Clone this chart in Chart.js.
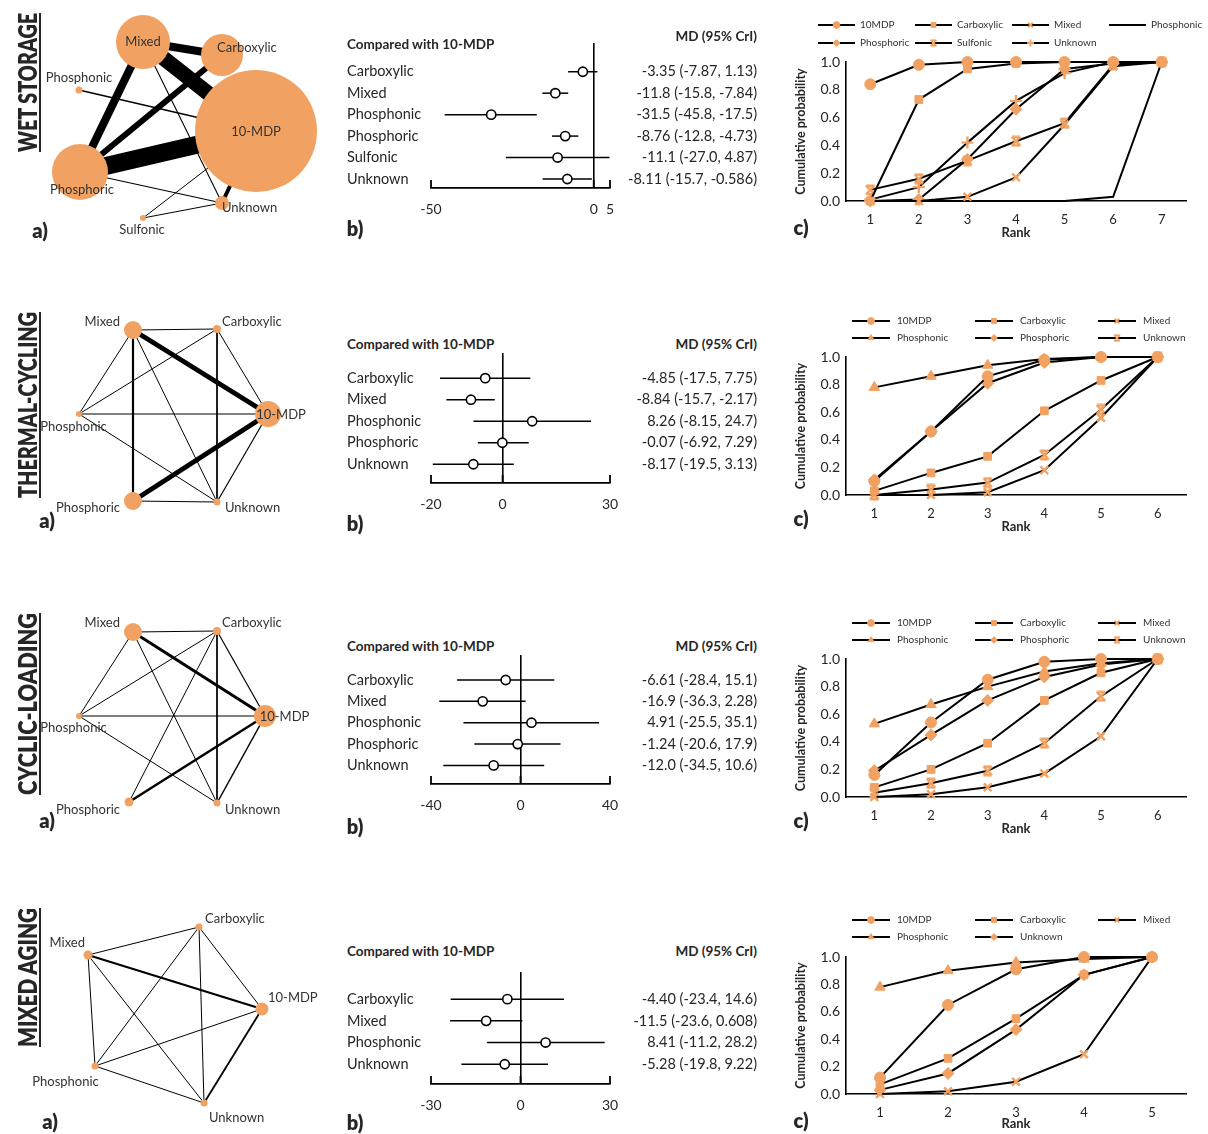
<!DOCTYPE html>
<html>
<head>
<meta charset="utf-8">
<script src="https://cdn.jsdelivr.net/npm/chart.js@4.4.1/dist/chart.umd.min.js"></script>
<style>
  html, body { margin: 0; padding: 0; background: #fff; }
  #page { position: relative; width: 1208px; height: 1134px; overflow: hidden;
          font-family: Lato, 'Open Sans', sans-serif; color: #262626; }
  .box { position: absolute; }
  .box canvas { display: block; }
  .txt { position: absolute; white-space: nowrap; line-height: 1; }
  .rowTitle { font-weight: 800; font-size: 27px; text-decoration: underline;
              text-decoration-thickness: 2px; text-underline-offset: 2px; transform-origin: 0 0; }
  .tag { font-weight: 800; font-size: 20px; transform: translate(-50%, -50%); }
  .hdr { font-weight: 700; font-size: 13.5px; }
</style>
</head>
<body>
<div id="page"></div>
<script>
// ================= DATA =================

// ---- Wet storage ----
const wsNodeNames = ['Mixed', 'Carboxylic', 'Phosphonic', '10-MDP', 'Phosphoric', 'Unknown', 'Sulfonic'];
const wsNodeX = [143, 222, 79, 256, 80, 222, 143];
const wsNodeY = [42, 55, 90, 131, 172, 203, 218];
const wsNodeSize = [27, 21, 3.5, 61, 28, 7, 3];
const wsEdgeFrom = [0, 0, 0, 1, 4, 2, 0, 4, 3, 6, 6];
const wsEdgeTo   = [1, 3, 4, 4, 3, 3, 5, 5, 5, 5, 3];
const wsEdgeWeight = [8, 15, 8, 6, 18, 1.3, 1.1, 1.1, 4, 1, 1];

const wsCats = ['Carboxylic', 'Mixed', 'Phosphonic', 'Phosphoric', 'Sulfonic', 'Unknown'];
const wsMD   = [-3.35, -11.8, -31.5, -8.76, -11.1, -8.11];
const wsLow  = [-7.87, -15.8, -45.8, -12.8, -27.0, -15.7];
const wsHigh = [1.13, -7.84, -17.5, -4.73, 4.87, -0.586];
const wsMDTicks = [-50, 0, 5];

const wsRanks = ['1', '2', '3', '4', '5', '6', '7'];
const wsRankNames = ['10MDP', 'Carboxylic', 'Mixed', 'Phosphonic', 'Phosphoric', 'Sulfonic', 'Unknown'];
const wsCumProb = [
  [0.84, 0.98, 1.0, 1.0, 1.0, 1.0, 1.0],
  [0.0, 0.73, 0.95, 0.99, 1.0, 1.0, 1.0],
  [0.0, 0.0, 0.03, 0.17, 0.55, 0.97, 1.0],
  [0.0, 0.0, 0.0, 0.0, 0.0, 0.03, 1.0],
  [0.0, 0.01, 0.30, 0.66, 0.95, 0.99, 1.0],
  [0.08, 0.16, 0.29, 0.43, 0.56, 0.98, 1.0],
  [0.01, 0.10, 0.42, 0.72, 0.92, 1.0, 1.0]
];

// ---- Thermal-cycling ----
const tcNodeNames = ['Mixed', 'Carboxylic', 'Phosphonic', '10-MDP', 'Phosphoric', 'Unknown'];
const tcNodeX = [133, 217, 79, 268, 133, 217];
const tcNodeY = [30, 29, 114, 114, 201, 202];
const tcNodeSize = [9, 4, 3, 13, 9, 3.5];
const tcEdgeFrom = [0, 4, 0, 0, 0, 0, 1, 1, 1, 2, 2, 4, 3];
const tcEdgeTo   = [3, 3, 4, 1, 2, 5, 2, 5, 3, 3, 5, 5, 5];
const tcEdgeWeight = [5, 5, 2.2, 1, 1, 1, 1, 1, 1, 1, 1, 1, 1.2];

const tcCats = ['Carboxylic', 'Mixed', 'Phosphonic', 'Phosphoric', 'Unknown'];
const tcMD   = [-4.85, -8.84, 8.26, -0.07, -8.17];
const tcLow  = [-17.5, -15.7, -8.15, -6.92, -19.5];
const tcHigh = [7.75, -2.17, 24.7, 7.29, 3.13];
const tcMDTicks = [-20, 0, 30];

const tcRanks = ['1', '2', '3', '4', '5', '6'];
const tcRankNames = ['10MDP', 'Carboxylic', 'Mixed', 'Phosphonic', 'Phosphoric', 'Unknown'];
const tcCumProb = [
  [0.10, 0.46, 0.86, 0.98, 1.0, 1.0],
  [0.03, 0.16, 0.28, 0.61, 0.83, 1.0],
  [0.0, 0.0, 0.02, 0.18, 0.56, 1.0],
  [0.78, 0.86, 0.94, 0.985, 1.0, 1.0],
  [0.11, 0.46, 0.81, 0.96, 1.0, 1.0],
  [0.0, 0.04, 0.09, 0.29, 0.62, 1.0]
];

// ---- Cyclic-loading ----
const clNodeNames = ['Mixed', 'Carboxylic', 'Phosphonic', '10-MDP', 'Phosphoric', 'Unknown'];
const clNodeX = [133, 217, 79, 265, 129, 217];
const clNodeY = [32, 31, 116, 116, 202, 203];
const clNodeSize = [9, 4, 3, 11, 4.5, 3.5];
const clEdgeFrom = [0, 4, 0, 0, 0, 1, 1, 1, 1, 2, 2, 3];
const clEdgeTo   = [3, 3, 1, 2, 5, 2, 4, 5, 3, 3, 5, 5];
const clEdgeWeight = [3, 2.5, 1, 1, 1, 1, 1, 1, 1.2, 1, 1, 1.5];

const clCats = ['Carboxylic', 'Mixed', 'Phosphonic', 'Phosphoric', 'Unknown'];
const clMD   = [-6.61, -16.9, 4.91, -1.24, -12.0];
const clLow  = [-28.4, -36.3, -25.5, -20.6, -34.5];
const clHigh = [15.1, 2.28, 35.1, 17.9, 10.6];
const clMDTicks = [-40, 0, 40];

const clRanks = ['1', '2', '3', '4', '5', '6'];
const clRankNames = ['10MDP', 'Carboxylic', 'Mixed', 'Phosphonic', 'Phosphoric', 'Unknown'];
const clCumProb = [
  [0.16, 0.54, 0.85, 0.98, 1.0, 1.0],
  [0.07, 0.20, 0.39, 0.70, 0.90, 1.0],
  [0.0, 0.02, 0.07, 0.17, 0.44, 1.0],
  [0.53, 0.67, 0.80, 0.91, 0.97, 1.0],
  [0.19, 0.45, 0.70, 0.87, 0.96, 1.0],
  [0.03, 0.10, 0.19, 0.39, 0.73, 1.0]
];

// ---- Mixed aging ----
const maNodeNames = ['Carboxylic', 'Mixed', '10-MDP', 'Phosphonic', 'Unknown'];
const maNodeX = [199, 88, 262, 95, 204];
const maNodeY = [37, 65, 119, 176, 213];
const maNodeSize = [3.5, 4.5, 6.5, 3.5, 3.5];
const maEdgeFrom = [1, 1, 1, 1, 0, 0, 0, 2, 2, 3];
const maEdgeTo   = [0, 2, 3, 4, 2, 3, 4, 3, 4, 4];
const maEdgeWeight = [1, 2.2, 1, 1, 1, 1, 1, 1, 1.8, 1];

const maCats = ['Carboxylic', 'Mixed', 'Phosphonic', 'Unknown'];
const maMD   = [-4.40, -11.5, 8.41, -5.28];
const maLow  = [-23.4, -23.6, -11.2, -19.8];
const maHigh = [14.6, 0.608, 28.2, 9.22];
const maMDTicks = [-30, 0, 30];

const maRanks = ['1', '2', '3', '4', '5'];
const maRankNames = ['10MDP', 'Carboxylic', 'Mixed', 'Phosphonic', 'Unknown'];
const maCumProb = [
  [0.12, 0.65, 0.91, 1.0, 1.0],
  [0.07, 0.26, 0.55, 0.87, 1.0],
  [0.0, 0.02, 0.09, 0.29, 1.0],
  [0.78, 0.90, 0.96, 0.985, 1.0],
  [0.03, 0.15, 0.47, 0.87, 1.0]
];

// ================= STYLE / LAYOUT =================
const ORANGE = '#F1A262';
const INK = '#262626';
Chart.defaults.font.family = "Lato, 'Open Sans', sans-serif";
Chart.defaults.color = INK;

const page = document.getElementById('page');

function addCanvas(left, top, w, h) {
  const d = document.createElement('div');
  d.className = 'box';
  d.style.cssText = `left:${left}px;top:${top}px;width:${w}px;height:${h}px;`;
  const c = document.createElement('canvas');
  c.width = w; c.height = h;
  c.style.width = w + 'px'; c.style.height = h + 'px';
  d.appendChild(c);
  page.appendChild(d);
  return c;
}

function addText(str, cls, css) {
  const t = document.createElement('div');
  t.className = 'txt ' + cls;
  t.textContent = str;
  t.style.cssText += css;
  page.appendChild(t);
  return t;
}

// Row title written bottom-to-top, stretched to the given length
function rowTitle(str, left, bottom, len) {
  const t = addText(str, 'rowTitle', `left:${left}px;top:${bottom}px;z-index:5;`);
  const w = t.getBoundingClientRect().width;
  t.style.transform = `rotate(-90deg) scaleX(${len / w})`;
}

function tag(str, cx, cy) {
  addText(str, 'tag', `left:${cx}px;top:${cy}px;z-index:5;`);
}

// Hourglass-style marker (used for the "star" series)
function hourglass(size, color, lw) {
  const c = document.createElement('canvas');
  c.width = c.height = size;
  const g = c.getContext('2d');
  g.strokeStyle = color; g.lineWidth = lw;
  const a = lw / 2 + 0.5, b = size - lw / 2 - 0.5;
  g.beginPath();
  g.moveTo(a, a); g.lineTo(b, b);
  g.moveTo(b, a); g.lineTo(a, b);
  g.moveTo(a, a); g.lineTo(b, a);
  g.moveTo(a, b); g.lineTo(b, b);
  g.stroke();
  return c;
}
const HOUR = hourglass(12, ORANGE, 2.4);

const MARK = {
  circle:  { pointStyle: 'circle', pointRadius: 5.5, pointBorderWidth: 1 },
  square:  { pointStyle: 'rect', pointRadius: 5.5, pointBorderWidth: 1 },
  x:       { pointStyle: 'crossRot', pointRadius: 5.5, pointBorderWidth: 2.4 },
  plus:    { pointStyle: 'cross', pointRadius: 6, pointBorderWidth: 2.4 },
  tri:     { pointStyle: 'triangle', pointRadius: 6, pointBorderWidth: 1 },
  diamond: { pointStyle: 'rectRot', pointRadius: 6, pointBorderWidth: 1 },
  hour:    { pointStyle: HOUR, pointRadius: 6, pointBorderWidth: 1 },
  none:    { pointStyle: 'circle', pointRadius: 0, pointBorderWidth: 0 }
};

// ================= PLUGINS =================
const nodeLabels = {
  id: 'nodeLabels',
  afterDatasetsDraw(chart, args, opts) {
    const meta = chart.getDatasetMeta(0);
    const ctx = chart.ctx;
    ctx.save();
    ctx.font = "13px Lato, 'Open Sans', sans-serif";
    ctx.fillStyle = '#333';
    ctx.textBaseline = 'middle';
    opts.names.forEach((name, i) => {
      const el = meta.data[i];
      const p = opts.place[i];
      ctx.textAlign = p[2];
      ctx.fillText(name, el.x + p[0], el.y + p[1]);
    });
    ctx.restore();
  }
};

const upTicks = {
  id: 'upTicks',
  afterDraw(chart, args, opts) {
    const sx = chart.scales.x, ctx = chart.ctx, y = chart.chartArea.bottom;
    ctx.save();
    ctx.strokeStyle = '#000';
    ctx.lineWidth = 1.8;
    sx.ticks.forEach(t => {
      const px = sx.getPixelForValue(t.value);
      ctx.beginPath(); ctx.moveTo(px, y); ctx.lineTo(px, y - opts.len); ctx.stroke();
    });
    ctx.restore();
  }
};

const gridLegend = {
  id: 'gridLegend',
  afterDraw(chart, args, o) {
    const ctx = chart.ctx;
    ctx.save();
    ctx.font = "10px Lato, 'Open Sans', sans-serif";
    ctx.textBaseline = 'middle';
    ctx.textAlign = 'left';
    chart.data.datasets.forEach((ds, i) => {
      const col = i % o.cols, row = Math.floor(i / o.cols);
      const x = o.x + col * o.colW, y = o.y + row * o.rowH;
      ctx.strokeStyle = '#000'; ctx.lineWidth = 2;
      ctx.beginPath(); ctx.moveTo(x, y); ctx.lineTo(x + o.lineLen, y); ctx.stroke();
      if (ds.pointRadius > 0) {
        const mx = x + o.lineLen / 2;
        if (ds.pointStyle instanceof HTMLCanvasElement) {
          ctx.drawImage(ds.pointStyle, mx - 4, y - 4, 8, 8);
        } else {
          ctx.fillStyle = ORANGE; ctx.strokeStyle = ORANGE;
          ctx.lineWidth = Math.min(ds.pointBorderWidth, 1.8);
          Chart.helpers.drawPoint(ctx, { pointStyle: ds.pointStyle, radius: 3.4, rotation: 0, borderWidth: ctx.lineWidth }, mx, y);
        }
      }
      ctx.fillStyle = '#333';
      ctx.fillText(ds.label, x + o.lineLen + o.gap, y);
    });
    ctx.restore();
  }
};

// ================= CHART BUILDERS =================
function networkChart(top, h, names, xs, ys, sizes, eFrom, eTo, eW, place) {
  const canvas = addCanvas(0, top, 330, h);
  const nodes = names.map((n, i) => ({ x: xs[i], y: ys[i], r: sizes[i] }));
  const edges = eFrom.map((a, k) => ({
    type: 'line',
    data: [{ x: xs[a], y: ys[a] }, { x: xs[eTo[k]], y: ys[eTo[k]] }],
    borderColor: '#000', borderWidth: eW[k], pointRadius: 0, order: 1, clip: false
  }));
  new Chart(canvas, {
    type: 'bubble',
    data: { datasets: [{ data: nodes, backgroundColor: ORANGE, borderWidth: 0, order: 0, clip: false }, ...edges] },
    options: {
      responsive: false, animation: false, devicePixelRatio: 1, events: [],
      layout: { padding: 0, autoPadding: false },
      plugins: { legend: { display: false }, tooltip: { enabled: false }, nodeLabels: { names, place } },
      scales: {
        x: { type: 'linear', min: 0, max: 330, display: false },
        y: { type: 'linear', min: 0, max: h, reverse: true, display: false }
      }
    },
    plugins: [nodeLabels]
  });
}

const fmt = v => Math.abs(v) < 0.1 ? v.toFixed(2) : v.toPrecision(3);

function forestChart(top, axisY, cats, md, lo, hi, xTicks, yMin, yMax) {
  const xAxisH = 32;
  const canvas = addCanvas(347, top, 410, axisY - top + xAxisH);
  const rowPos = cats.map((c, i) => i + 1);
  const mdText = md.map((m, i) => `${fmt(m)} (${fmt(lo[i])}, ${fmt(hi[i])})`);
  const ciSets = cats.map((c, i) => ({
    type: 'line',
    data: [{ x: lo[i], y: rowPos[i] }, { x: hi[i], y: rowPos[i] }],
    borderColor: '#000', borderWidth: 1.5, pointRadius: 0, order: 1, clip: false
  }));
  const pointSet = {
    type: 'scatter',
    data: md.map((m, i) => ({ x: m, y: rowPos[i] })),
    pointStyle: 'circle', pointRadius: 4.6,
    pointBackgroundColor: '#fff', pointBorderColor: '#000', pointBorderWidth: 1.6,
    order: 0, clip: false
  };
  const sideAxis = (pos, labels, width) => ({
    type: 'linear', position: pos, min: yMin, max: yMax, reverse: true,
    afterBuildTicks: s => { s.ticks = rowPos.map(v => ({ value: v })); },
    afterFit: s => { s.width = width; s.paddingTop = 0; s.paddingBottom = 0; },
    ticks: { callback: v => labels[v - 1], crossAlign: 'far', autoSkip: false, padding: 0,
             font: { size: 14.5 }, color: INK },
    grid: { display: false }, border: { display: false }
  });
  new Chart(canvas, {
    type: 'scatter',
    data: { datasets: [pointSet, ...ciSets] },
    options: {
      responsive: false, animation: false, devicePixelRatio: 1, events: [],
      layout: { padding: 0, autoPadding: false },
      plugins: { legend: { display: false }, tooltip: { enabled: false }, upTicks: { len: 8 } },
      scales: {
        x: {
          type: 'linear', min: xTicks[0], max: xTicks[xTicks.length - 1],
          afterBuildTicks: s => { s.ticks = xTicks.map(v => ({ value: v })); },
          afterFit: s => { s.height = xAxisH; },
          ticks: { autoSkip: false, maxRotation: 0, padding: 13, font: { size: 14 }, color: INK },
          grid: { drawTicks: false, lineWidth: 1.6,
                  color: c => (c.tick && c.tick.value === 0) ? '#000' : 'rgba(0,0,0,0)' },
          border: { display: true, color: '#000', width: 1.8 }
        },
        y: sideAxis('left', cats, 84),
        y2: sideAxis('right', mdText, 147)
      }
    },
    plugins: [upTicks]
  });
}

function rankChart(top, h, padTop, xAxisH, ranks, names, probs, marks, legend) {
  const canvas = addCanvas(780, top, 428, h);
  const datasets = names.map((n, i) => Object.assign({
    label: n, data: probs[i], borderColor: '#000', borderWidth: 2, tension: 0,
    pointBackgroundColor: ORANGE, pointBorderColor: ORANGE, clip: false
  }, MARK[marks[i]]));
  new Chart(canvas, {
    type: 'line',
    data: { labels: ranks, datasets },
    options: {
      responsive: false, animation: false, devicePixelRatio: 1, events: [],
      layout: { padding: { top: padTop, right: 22, left: 0, bottom: 0 }, autoPadding: false },
      plugins: { legend: { display: false }, tooltip: { enabled: false }, gridLegend: legend },
      scales: {
        x: {
          type: 'category', offset: true,
          afterFit: s => { s.height = xAxisH; },
          ticks: { padding: 11, font: { size: 13 }, color: INK, maxRotation: 0 },
          grid: { display: false, drawTicks: false },
          border: { display: true, color: '#000', width: 1.6 },
          title: { display: true, text: 'Rank', font: { size: 13, weight: 'bold' }, color: INK,
                   padding: { top: 0, bottom: 2 } }
        },
        y: {
          min: 0, max: 1,
          afterFit: s => { s.width = 66; },
          ticks: { stepSize: 0.2, callback: v => v.toFixed(1), padding: 6, font: { size: 14 }, color: INK },
          grid: { display: false, drawTicks: false },
          border: { display: true, color: '#000', width: 1.6 },
          title: { display: true, text: 'Cumulative probability', font: { size: 12.5, weight: 'bold' },
                   color: INK, padding: { top: 13, bottom: 0 } }
        }
      }
    },
    plugins: [gridLegend]
  });
}

// ================= ROW 1: WET STORAGE =================
networkChart(0, 245, wsNodeNames, wsNodeX, wsNodeY, wsNodeSize, wsEdgeFrom, wsEdgeTo, wsEdgeWeight,
  [[0, 0, 'center'], [-5, -7, 'left'], [0, -12, 'center'], [0, 1, 'center'],
   [2, 18, 'center'], [0, 5, 'left'], [-1, 12, 'center']]);
forestChart(43, 188, wsCats, wsMD, wsLow, wsHigh, wsMDTicks, -0.34, 6.42);
rankChart(0, 243, 62, 42, wsRanks, wsRankNames, wsCumProb,
  ['circle', 'square', 'x', 'none', 'diamond', 'hour', 'plus'],
  { cols: 4, x: 38, colW: 97, y: 25, rowH: 18, lineLen: 37, gap: 5 });

// ================= ROW 2: THERMAL-CYCLING =================
networkChart(300, 240, tcNodeNames, tcNodeX, tcNodeY, tcNodeSize, tcEdgeFrom, tcEdgeTo, tcEdgeWeight,
  [[-13, -8, 'right'], [5, -7, 'left'], [-5.5, 13, 'center'], [13, 1, 'center'],
   [-13, 7, 'right'], [8, 6, 'left']]);
forestChart(353, 483, tcCats, tcMD, tcLow, tcHigh, tcMDTicks, -0.17, 5.87);
rankChart(300, 237, 57, 42, tcRanks, tcRankNames, tcCumProb,
  ['circle', 'square', 'x', 'tri', 'diamond', 'hour'],
  { cols: 3, x: 72, colW: 123, y: 21, rowH: 17, lineLen: 38, gap: 7 });

// ================= ROW 3: CYCLIC-LOADING =================
networkChart(600, 240, clNodeNames, clNodeX, clNodeY, clNodeSize, clEdgeFrom, clEdgeTo, clEdgeWeight,
  [[-13, -9, 'right'], [5, -8, 'left'], [-5.5, 12, 'center'], [19.5, 1, 'center'],
   [-9, 8, 'right'], [8, 7, 'left']]);
forestChart(655, 784, clCats, clMD, clLow, clHigh, clMDTicks, -0.17, 5.87);
rankChart(600, 239, 59, 42, clRanks, clRankNames, clCumProb,
  ['circle', 'square', 'x', 'tri', 'diamond', 'hour'],
  { cols: 3, x: 72, colW: 123, y: 23, rowH: 17, lineLen: 38, gap: 7 });

// ================= ROW 4: MIXED AGING =================
networkChart(890, 244, maNodeNames, maNodeX, maNodeY, maNodeSize, maEdgeFrom, maEdgeTo, maEdgeWeight,
  [[6, -8, 'left'], [-3, -12, 'right'], [6, -11, 'left'], [-29.5, 16, 'center'], [5, 15, 'left']]);
forestChart(972, 1084, maCats, maMD, maLow, maHigh, maMDTicks, -0.25, 4.91);
rankChart(895, 239, 62, 40, maRanks, maRankNames, maCumProb,
  ['circle', 'square', 'x', 'tri', 'diamond'],
  { cols: 3, x: 72, colW: 123, y: 25, rowH: 17, lineLen: 38, gap: 7 });

// ================= TEXT =================
rowTitle('WET STORAGE', 12.5, 152, 139);
rowTitle('THERMAL-CYCLING', 12.5, 498, 186);
rowTitle('CYCLIC-LOADING', 12.5, 795, 182);
rowTitle('MIXED AGING', 12.5, 1047, 139);

[[230, 228, 227], [520, 523, 518], [820, 826, 820], [1121, 1122, 1120]].forEach((ys, r) => {
  tag('a)', r === 0 ? 40 : (r === 3 ? 50 : 47), ys[0]);
  tag('b)', 355, ys[1]);
  tag('c)', 801, ys[2]);
});

[[45, 37], [345, 345], [647, 647], [952, 952]].forEach(([yc, ym]) => {
  addText('Compared with 10-MDP', 'hdr', `left:347px;top:${yc}px;transform:translateY(-50%);`);
  addText('MD (95% CrI)', 'hdr', `left:757px;top:${ym}px;transform:translate(-100%,-50%);`);
});
</script>
</body>
</html>
